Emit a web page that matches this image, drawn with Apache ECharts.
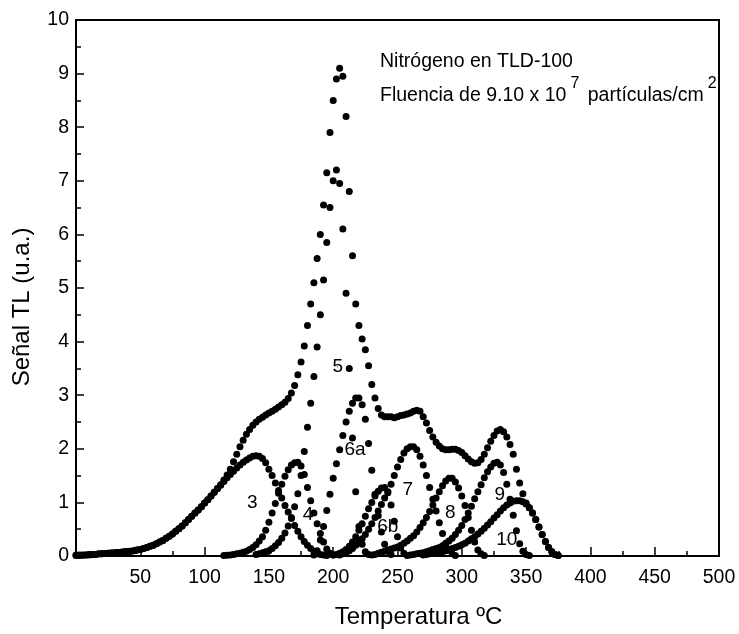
<!DOCTYPE html>
<html><head><meta charset="utf-8">
<script src="https://cdn.jsdelivr.net/npm/echarts@6/dist/echarts.min.js"></script>
<style>html,body{margin:0;padding:0;background:#fff}#c{width:739px;height:634px}</style>
</head><body><div id="c"></div>
<script>
const STEP = 2.5;

// Measured glow curve (starts at 0 °C)
const totalStart = 0;
const totalVals = [
 0.02,0.02,0.02,0.02,0.03,0.03,0.03,0.04,0.04,0.045,
 0.05,0.055,0.06,0.065,0.07,0.08,0.085,0.09,0.1,0.11,
 0.12,0.14,0.16,0.18,0.2,0.23,0.26,0.29,0.33,0.37,
 0.41,0.46,0.51,0.56,0.62,0.68,0.74,0.8,0.86,0.92,
 0.99,1.05,1.12,1.19,1.26,1.33,1.42,1.51,1.62,1.76,
 1.9,2.04,2.16,2.27,2.36,2.44,2.5,2.55,2.59,2.63,
 2.67,2.7,2.74,2.78,2.82,2.87,2.94,3.04,3.18,3.38,
 3.62,3.92,4.3,4.7,5.1,5.55,6.0,6.55,7.15,7.9,
 8.5,8.9,9.1,8.95,8.2,6.8,5.6,4.7,4.3,4.05,
 3.85,3.55,3.2,2.95,2.75,2.63,2.6,2.6,2.6,2.58,
 2.6,2.62,2.63,2.65,2.67,2.7,2.72,2.7,2.6,2.48,
 2.34,2.22,2.12,2.05,2.0,1.98,1.98,1.99,1.99,1.97,
 1.93,1.87,1.81,1.76,1.73,1.74,1.8,1.9,2.02,2.14,
 2.25,2.33,2.36,2.32,2.22,2.08,1.9,1.62,1.36,1.16,
 0.99,0.9,0.8,0.68,0.54,0.4,0.27,0.16,0.08,0.03,
 0.01
];

// Deconvolved peaks
const p3Start = 0;
const p3Vals = [
 0.01,0.01,0.015,0.02,0.02,0.025,0.03,0.035,0.04,0.045,
 0.05,0.055,0.06,0.065,0.07,0.08,0.085,0.09,0.1,0.11,
 0.12,0.14,0.16,0.18,0.2,0.23,0.26,0.29,0.33,0.37,
 0.41,0.46,0.51,0.56,0.62,0.68,0.74,0.8,0.86,0.92,
 0.99,1.05,1.12,1.19,1.26,1.32,1.39,1.46,1.52,1.58,
 1.64,1.7,1.75,1.79,1.83,1.86,1.87,1.86,1.82,1.74,
 1.62,1.5,1.36,1.22,1.08,0.94,0.82,0.7,0.57,0.46,
 0.36,0.27,0.2,0.14,0.09,0.06,0.03,0.02,0.01
];
const p4Start = 115;
const p4Vals = [
 0.01,0.015,0.02,0.03,0.04,0.05,0.07,0.09,0.12,0.16,
 0.21,0.28,0.36,0.48,0.63,0.8,0.98,1.17,1.34,1.49,
 1.61,1.7,1.74,1.75,1.68,1.52,1.28,1.03,0.8,0.6,
 0.42,0.26,0.13,0.05,0.02
];
const p5Start = 140;
const p5Vals = [
 0.03,0.04,0.06,0.08,0.1,0.14,0.19,0.25,0.33,0.43,
 0.56,0.72,0.92,1.16,1.5,1.95,2.4,2.85,3.35,3.9,
 4.5,5.15,5.85,6.5,7.0,7.2,6.95,6.1,4.9,3.5,
 2.2,1.2,0.55,0.22,0.08,0.03
];
const p6aStart = 185;
const p6aVals = [
 0.02,0.1,0.3,0.55,0.85,1.15,1.45,1.72,1.98,2.25,
 2.5,2.7,2.85,2.95,2.95,2.82,2.55,2.1,1.6,1.15,
 0.75,0.45,0.22,0.09,0.03
];
const p6bStart = 200;
const p6bVals = [
 0.02,0.03,0.05,0.08,0.12,0.18,0.26,0.36,0.48,0.6,
 0.74,0.88,1.0,1.12,1.21,1.27,1.28,1.18,0.95,0.65,
 0.36,0.15,0.05,0.01
];
const p7Start = 205;
const p7Vals = [
 0.02,0.04,0.06,0.1,0.14,0.2,0.26,0.32,0.4,0.5,
 0.6,0.72,0.84,0.96,1.08,1.2,1.34,1.5,1.66,1.8,
 1.92,2.0,2.04,2.04,1.98,1.86,1.7,1.5,1.28,1.06,
 0.84,0.62,0.42,0.24,0.11,0.04,0.01
];
const p8Start = 230;
const p8Vals = [
 0.02,0.03,0.05,0.07,0.09,0.11,0.13,0.15,0.17,0.2,
 0.24,0.28,0.33,0.38,0.45,0.53,0.62,0.72,0.83,0.95,
 1.08,1.2,1.31,1.4,1.45,1.45,1.38,1.27,1.12,0.94,
 0.72,0.48,0.26,0.11,0.04,0.01
];
const p9Start = 260;
const p9Vals = [
 0.02,0.03,0.04,0.05,0.06,0.08,0.1,0.12,0.14,0.16,
 0.19,0.23,0.28,0.33,0.4,0.48,0.57,0.68,0.8,0.93,
 1.07,1.2,1.33,1.46,1.57,1.66,1.73,1.75,1.7,1.56,
 1.34,1.06,0.76,0.47,0.23,0.09,0.03,0.01
];
const p10Start = 270;
const p10Vals = [
 0.02,0.03,0.04,0.05,0.06,0.07,0.08,0.1,0.12,0.14,
 0.16,0.18,0.21,0.24,0.28,0.32,0.36,0.41,0.46,0.52,
 0.58,0.64,0.71,0.77,0.84,0.9,0.95,0.99,1.02,1.03,
 1.03,1.01,0.97,0.9,0.8,0.68,0.54,0.4,0.27,0.16,
 0.08,0.03,0.01
];

// Peak labels
const peakNames = ['3','4','5','6a','6b','7','8','9','10'];
const peakLabelT = [137,180.5,203.5,217,242.5,258,291,329.5,335];
const peakLabelV = [1.0,0.76,3.53,1.98,0.54,1.23,0.8,1.14,0.3];

// Axis ticks
const xMin = 0, xMax = 500, xInterval = 50;
const yMin = 0, yMax = 10, yInterval = 1;

const FONT = '"Liberation Sans", Arial, Helvetica, sans-serif';

function pts(start, vals){ return vals.map((v,i)=>[start + i*STEP, v]); }

const curves = [
  [totalStart,totalVals],[p3Start,p3Vals],[p4Start,p4Vals],[p5Start,p5Vals],
  [p6aStart,p6aVals],[p6bStart,p6bVals],[p7Start,p7Vals],[p8Start,p8Vals],
  [p9Start,p9Vals],[p10Start,p10Vals]
];

const series = curves.map(c => ({
  type:'scatter', data: pts(c[0], c[1]), symbol:'circle', symbolSize:7,
  itemStyle:{color:'#000', opacity:1}, silent:true, z:2
}));
series.push({
  type:'scatter', symbol:'circle', symbolSize:1, silent:true, z:5,
  itemStyle:{color:'#000', opacity:1},
  data: peakNames.map((n,i)=>({value:[peakLabelT[i], peakLabelV[i]], name:n})),
  label:{show:true, position:'inside', formatter: p=>p.name, color:'#000', opacity:1,
         textBorderWidth:0, fontSize:19, fontFamily:FONT}
});

const chart = echarts.init(document.getElementById('c'), null, {renderer:'canvas'});
chart.setOption({
  animation:false,
  backgroundColor:'#fff',
  grid:{left:76, right:20, top:20, bottom:78, show:true, borderColor:'#000', borderWidth:2, backgroundColor:'transparent'},
  xAxis:{
    type:'value', min:xMin, max:xMax, interval:xInterval,
    name:'Temperatura ºC', nameLocation:'middle', nameGap:49,
    nameTextStyle:{fontSize:24, fontFamily:FONT, color:'#000', padding:[0,0,0,42]},
    axisLine:{show:true, lineStyle:{color:'#000', width:2}},
    axisTick:{show:true, inside:true, length:9, lineStyle:{color:'#000', width:1.5}},
    minorTick:{show:true, splitNumber:2, length:5, lineStyle:{color:'#000', width:1.5}},
    splitLine:{show:false},
    axisLabel:{showMinLabel:false, fontSize:19.5, fontFamily:FONT, color:'#000', margin:12}
  },
  yAxis:{
    type:'value', min:yMin, max:yMax, interval:yInterval,
    name:'Señal TL (u.a.)', nameLocation:'middle', nameGap:42,
    nameTextStyle:{fontSize:24, fontFamily:FONT, color:'#000', padding:[0,38,0,0]},
    axisLine:{show:true, lineStyle:{color:'#000', width:2}},
    axisTick:{show:true, inside:true, length:8, lineStyle:{color:'#000', width:1.5}},
    minorTick:{show:true, splitNumber:2, length:5, lineStyle:{color:'#000', width:1.5}},
    splitLine:{show:false},
    axisLabel:{fontSize:19.5, fontFamily:FONT, color:'#000', margin:7}
  },
  graphic:[
    {type:'text', left:380, top:52, z:10,
     style:{text:'Nitrógeno en TLD-100', font:'19.5px '+FONT, fill:'#000'}},
    {type:'text', left:380, top:76, z:10,
     style:{text:'{n|Fluencia de 9.10 x 10}{s|7}{n| partículas/cm}{s|2}', fill:'#000',
       rich:{
         n:{fontSize:19.5, fontFamily:FONT, fill:'#000', verticalAlign:'bottom', lineHeight:30},
         s:{fontSize:16, fontFamily:FONT, fill:'#000', verticalAlign:'top', lineHeight:30, padding:[0,3,0,4]}
       }}}
  ],
  series: series
});
</script>
</body></html>
